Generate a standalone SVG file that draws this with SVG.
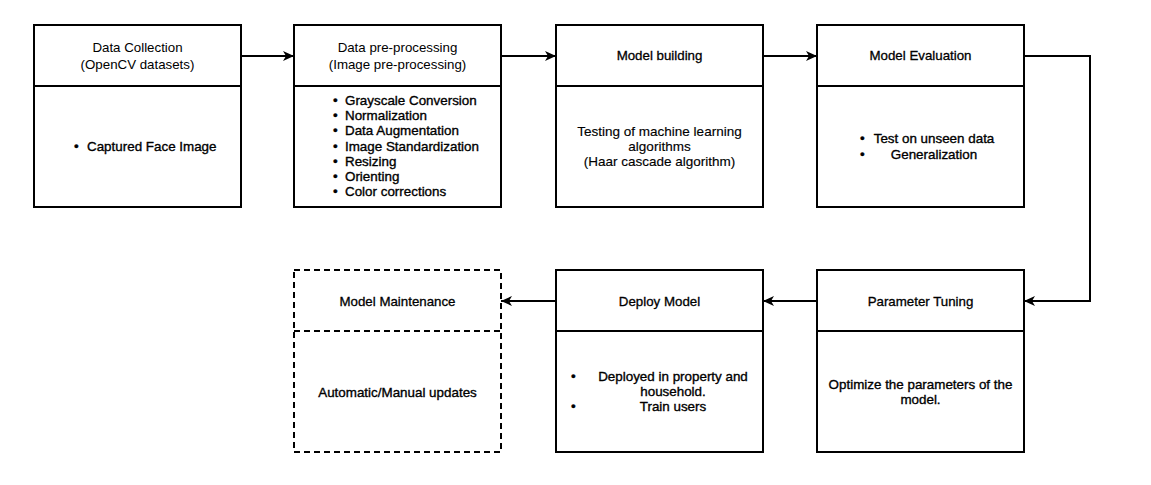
<svg xmlns="http://www.w3.org/2000/svg" width="1151" height="485" viewBox="0 0 1151 485">
<defs>
<marker id="arr" markerUnits="userSpaceOnUse" markerWidth="12" markerHeight="10" refX="11" refY="5" orient="auto">
<path d="M0,0 L11,5 L0,10 L3,5 Z" fill="#000"/>
</marker>
<style>
.box{fill:#fff;stroke:#000;stroke-width:2}
.dash{fill:#fff;stroke:#000;stroke-width:2;stroke-dasharray:6 4}
.line{fill:none;stroke:#000;stroke-width:2}
.conn{fill:none;stroke:#000;stroke-width:2;marker-end:url(#arr)}
text{font-family:"Liberation Sans",Arial,sans-serif;fill:#000}
.h{font-size:13.3px;text-anchor:middle}
.hb{font-size:13.3px;text-anchor:middle;stroke:#000;stroke-width:0.3}
.b{font-size:13.4px;stroke:#000;stroke-width:0.35}
.bc{font-size:13.4px;text-anchor:middle;stroke:#000;stroke-width:0.35}
.r{font-size:13.5px;text-anchor:middle;stroke:#000;stroke-width:0.15}
</style>
</defs>
<rect width="1151" height="485" fill="#fff"/>
<g id="connectors">
<path class="conn" d="M241,56 L294,56"/>
<path class="conn" d="M501,56 L556,56"/>
<path class="conn" d="M763,56 L817,56"/>
<path class="conn" d="M1024,56 L1090,56 L1090,301 L1024,301"/>
<path class="conn" d="M817,301 L763,301"/>
<path class="conn" d="M556,301 L501,301"/>
</g>
<g id="data-collection">
<rect class="box" x="34" y="25" width="207" height="182"/>
<line class="line" x1="34" y1="86" x2="241" y2="86"/>
<text class="h" x="137.5" y="52">Data Collection</text>
<text class="h" x="137.5" y="69">(OpenCV datasets)</text>
<text class="b" x="74" y="151">•</text>
<text class="b" x="87" y="151">Captured Face Image</text>
</g>
<g id="data-preprocessing">
<rect class="box" x="294" y="25" width="207" height="182"/>
<line class="line" x1="294" y1="86" x2="501" y2="86"/>
<text class="h" x="397.5" y="52">Data pre-processing</text>
<text class="h" x="397.5" y="69">(Image pre-processing)</text>
<text class="b" x="333" y="105">•</text><text class="b" x="345" y="105">Grayscale Conversion</text>
<text class="b" x="333" y="120.2">•</text><text class="b" x="345" y="120.2">Normalization</text>
<text class="b" x="333" y="135.4">•</text><text class="b" x="345" y="135.4">Data Augmentation</text>
<text class="b" x="333" y="150.6">•</text><text class="b" x="345" y="150.6">Image Standardization</text>
<text class="b" x="333" y="165.8">•</text><text class="b" x="345" y="165.8">Resizing</text>
<text class="b" x="333" y="181">•</text><text class="b" x="345" y="181">Orienting</text>
<text class="b" x="333" y="196.2">•</text><text class="b" x="345" y="196.2">Color corrections</text>
</g>
<g id="model-building">
<rect class="box" x="556" y="25" width="207" height="182"/>
<line class="line" x1="556" y1="86" x2="763" y2="86"/>
<text class="hb" x="659.5" y="60">Model building</text>
<text class="r" x="659.5" y="136">Testing of machine learning</text>
<text class="r" x="659.5" y="151">algorithms</text>
<text class="r" x="659.5" y="166">(Haar cascade algorithm)</text>
</g>
<g id="model-evaluation">
<rect class="box" x="817" y="25" width="207" height="182"/>
<line class="line" x1="817" y1="86" x2="1024" y2="86"/>
<text class="hb" x="920.5" y="60">Model Evaluation</text>
<text class="b" x="860" y="143">•</text>
<text class="bc" x="934" y="143">Test on unseen data</text>
<text class="b" x="860" y="159">•</text>
<text class="bc" x="934" y="159">Generalization</text>
</g>
<g id="parameter-tuning">
<rect class="box" x="817" y="270" width="207" height="182"/>
<line class="line" x1="817" y1="331" x2="1024" y2="331"/>
<text class="hb" x="920.5" y="306">Parameter Tuning</text>
<text class="bc" x="920.5" y="389">Optimize the parameters of the</text>
<text class="bc" x="920.5" y="404">model.</text>
</g>
<g id="deploy-model">
<rect class="box" x="556" y="270" width="207" height="182"/>
<line class="line" x1="556" y1="331" x2="763" y2="331"/>
<text class="hb" x="659.5" y="306">Deploy Model</text>
<text class="b" x="571" y="381">•</text>
<text class="bc" x="673" y="381">Deployed in property and</text>
<text class="bc" x="673" y="396">household.</text>
<text class="b" x="571" y="411">•</text>
<text class="bc" x="673" y="411">Train users</text>
</g>
<g id="model-maintenance">
<rect class="dash" x="294" y="270" width="207" height="182"/>
<line class="line" x1="294" y1="331" x2="501" y2="331" stroke-dasharray="6 4"/>
<text class="hb" x="397.5" y="306">Model Maintenance</text>
<text class="bc" x="397.5" y="397">Automatic/Manual updates</text>
</g>
</svg>
